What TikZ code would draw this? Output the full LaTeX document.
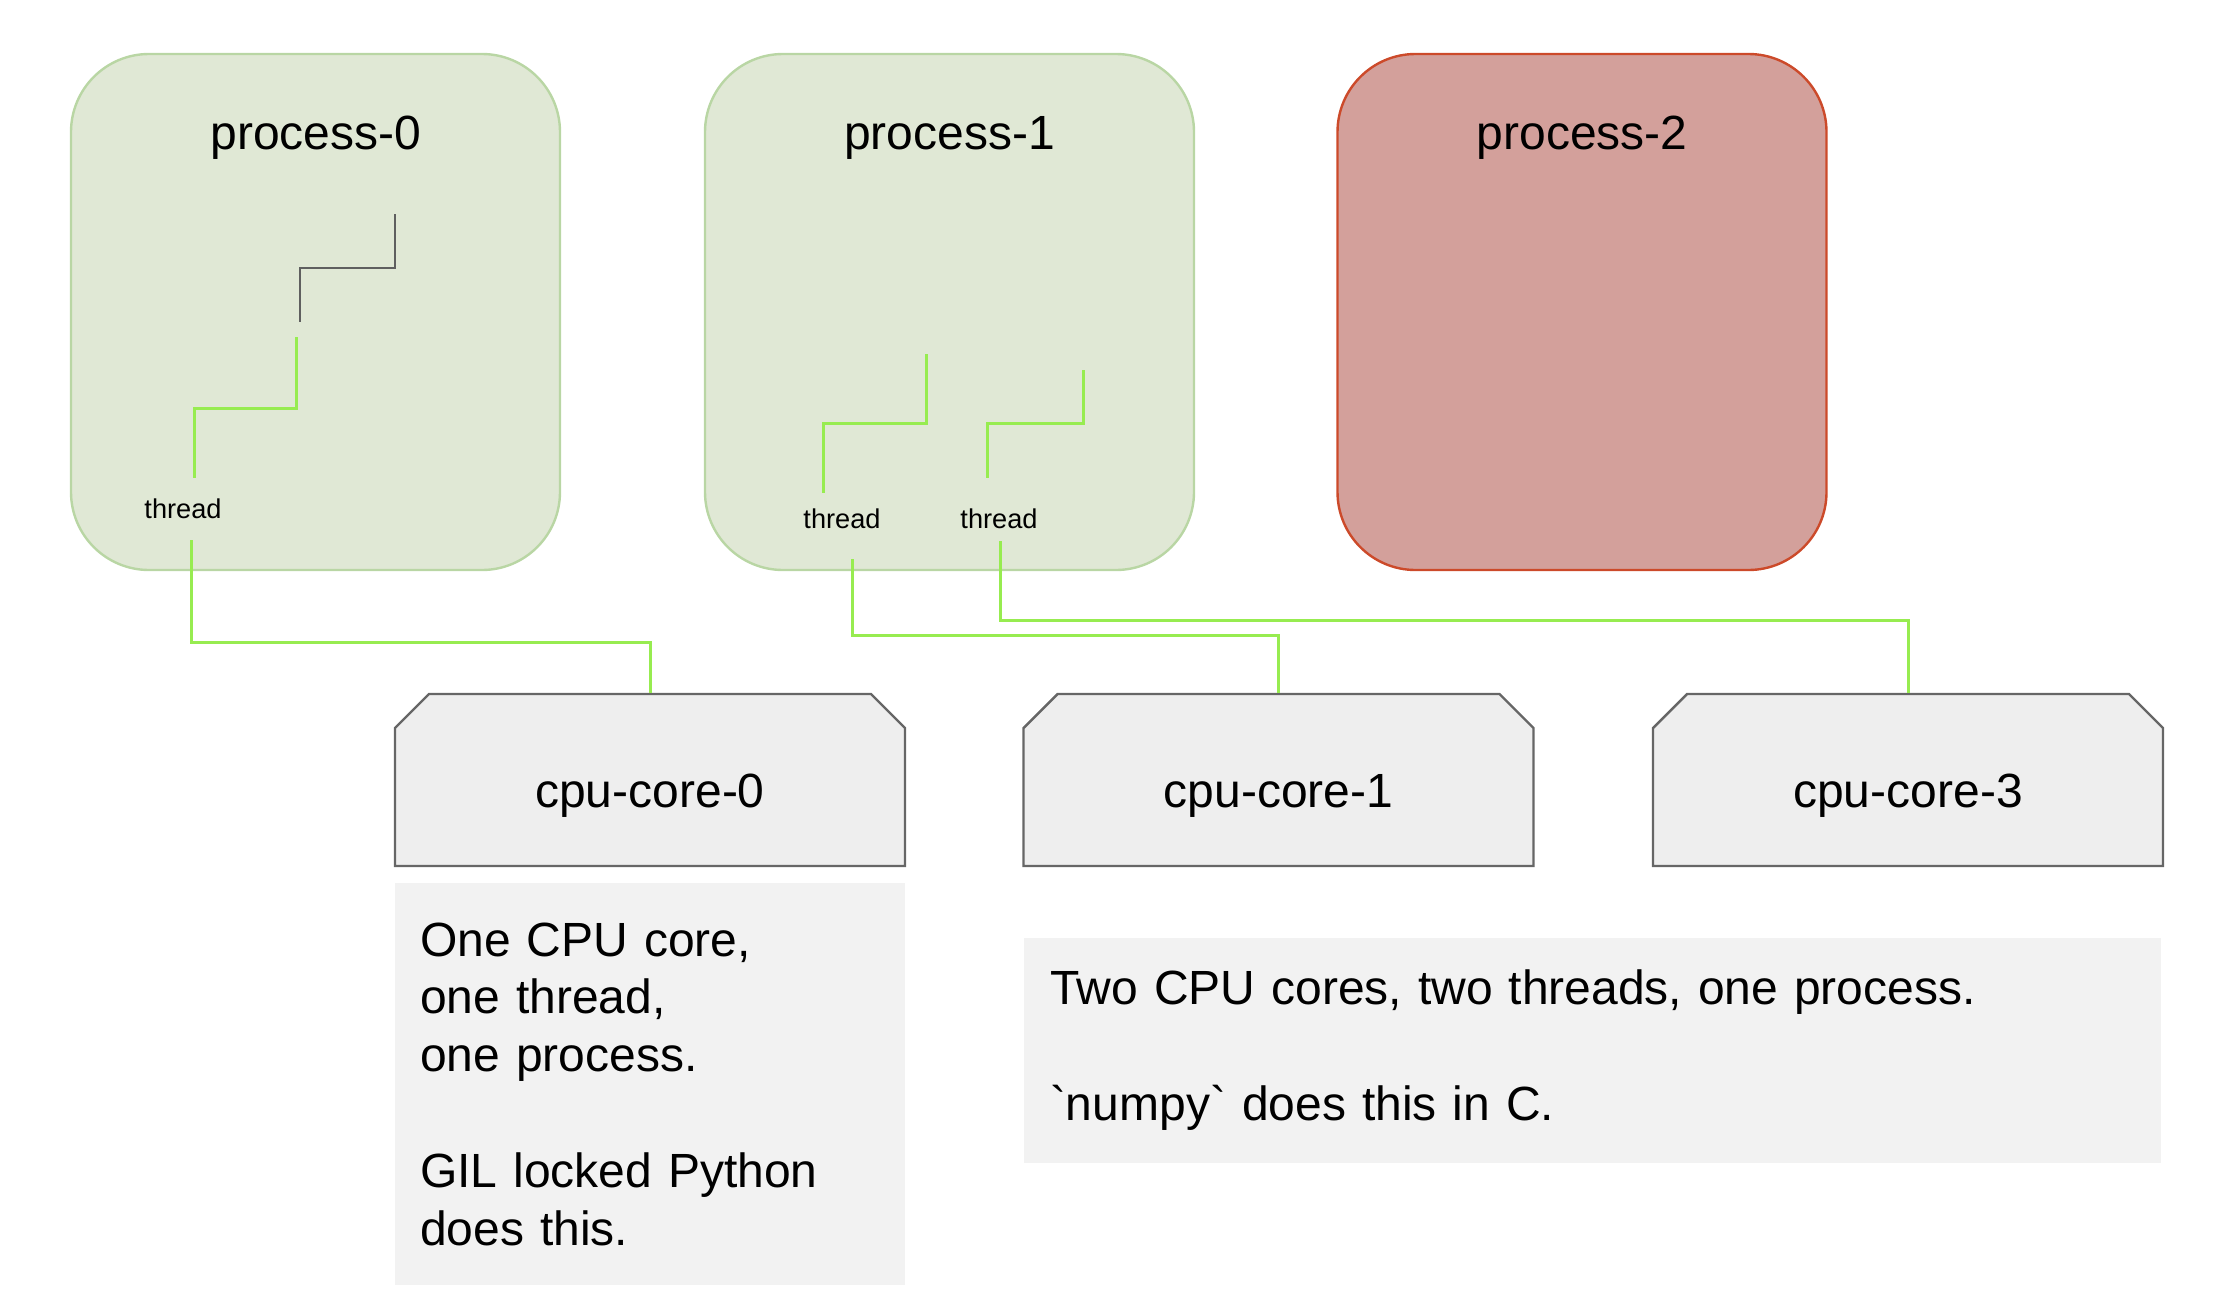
\documentclass[tikz,border=0pt]{standalone}
\usepackage{fontspec}
\setmainfont{Liberation Sans}
\usetikzlibrary{shapes.misc}
\definecolor{procfill}{HTML}{E0E8D5}
\definecolor{procline}{HTML}{B9D6A4}
\definecolor{deadfill}{HTML}{D3A09B}
\definecolor{deadline}{HTML}{CC4A2A}
\definecolor{corefill}{HTML}{EEEEEE}
\definecolor{coreline}{HTML}{666666}
\definecolor{notefill}{HTML}{F2F2F2}
\definecolor{wiregreen}{HTML}{97EC50}
\definecolor{stepgray}{HTML}{5F5F5F}

\begin{document}
\begin{tikzpicture}[x=0.5pt,y=-0.5pt,
	proc/.style={draw=procline,fill=procfill,line width=1.2pt,rounded corners=39pt,minimum width=244.5pt,minimum height=258pt},
	deadproc/.style={proc,draw=deadline,fill=deadfill},
	core/.style={chamfered rectangle,chamfered rectangle corners={north west,north east},chamfered rectangle xsep=14pt,draw=coreline,fill=corefill,line width=1.2pt,minimum width=255pt,minimum height=86pt,text height=27pt,text depth=0pt,font=\fontsize{24}{29}\selectfont},
	note/.style={fill=notefill,inner ysep=0pt,align=left,font=\fontsize{24}{28.9}\selectfont},
	title/.style={anchor=base,font=\fontsize{24}{29}\selectfont},
	thrd/.style={anchor=base,font=\fontsize{13.6}{16}\selectfont},
	wire/.style={draw=wiregreen,line width=1.5pt},
	idle/.style={draw=stepgray,line width=1pt}]
	\tikzstyle{every node}+=[inner sep=0pt]
	\useasboundingbox (0,0) rectangle (2234,1296);
	\node [proc] (p0) at (315.5,312) {};
	\node [proc] (p1) at (949.5,312) {};
	\node [deadproc] (p2) at (1582,312) {};
	\node [title] (p0t) at (316,149) {process-0};
	\node [title] (p1t) at (949.5,149) {process-1};
	\node [title] (p2t) at (1582,149) {process-2};
	\node [thrd] (t0) at (183,518) {thread};
	\node [thrd] (t1) at (842,528) {thread};
	\node [thrd] (t2) at (999,528) {thread};
	\node [core] (c0) at (650,780) {cpu-core-0};
	\node [core] (c1) at (1278.5,780) {cpu-core-1};
	\node [core] (c3) at (1908,780) {cpu-core-3};
	\node [note,text width=230pt,inner xsep=12.5pt,minimum height=201pt] (n0) at (650,1084) {One CPU core,\\ one thread,\\ one process.\\[28.9pt] GIL locked Python\\ does this.};
	\node [note,text width=542.5pt,inner xsep=13pt,minimum height=112.5pt] (n1) at (1592.5,1050) {Two CPU cores, two threads, one process.\\[28.9pt] \textasciigrave numpy\textasciigrave\ does this in C.};
	\coordinate (g0) at (395,214);
	\coordinate (g0e) at (300,322);
	\draw [idle] (g0) -- ++(0,54) -| (g0e);
	\coordinate (s0) at (296,337);
	\coordinate (s0e) at (194,478);
	\draw [wire] (s0) -- ++(0,71) -| (s0e);
	\coordinate (s1) at (926,354);
	\coordinate (s1e) at (823,493);
	\draw [wire] (s1) -- ++(0,69) -| (s1e);
	\coordinate (s2) at (1083,370);
	\coordinate (s2e) at (987,478);
	\draw [wire] (s2) -- ++(0,53) -| (s2e);
	\coordinate (w0) at (191,540);
	\coordinate (w0b) at (191,642);
	\draw [wire] (w0) -- (w0b) -| (c0.north);
	\coordinate (w1) at (852,559);
	\coordinate (w1b) at (852,635);
	\draw [wire] (w1) -- (w1b) -| (c1.north);
	\coordinate (w2) at (1000,541);
	\coordinate (w2b) at (1000,620);
	\draw [wire] (w2) -- (w2b) -| (c3.north);
\end{tikzpicture}
\end{document}
